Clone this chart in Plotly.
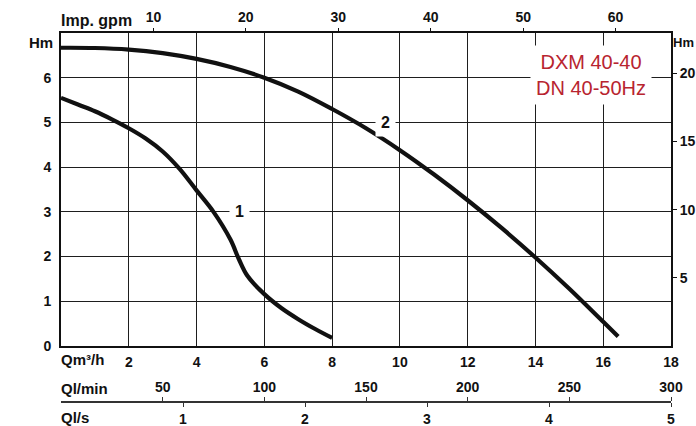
import plotly.graph_objects as go

# ---- data ----
q1 = [0, 0.5, 1, 1.5, 2, 2.5, 3, 3.5, 4, 4.5, 5.0, 5.25, 5.5, 6, 6.5, 7, 7.5, 8]
h1 = [5.55, 5.40, 5.25, 5.07, 4.87, 4.64, 4.35, 3.96, 3.48, 3.00, 2.38, 1.94, 1.57, 1.16, 0.85, 0.60,
      0.38, 0.18]
q2 = [0, 1, 2, 3, 4, 5, 6, 7, 8, 9, 10, 11, 12, 13, 14, 15, 16, 16.44]
h2 = [6.67, 6.665, 6.63, 6.55, 6.42, 6.24, 6.0, 5.69, 5.30, 4.87, 4.38, 3.84, 3.26, 2.64, 1.98, 1.28,
      0.54, 0.21]

q_ticks = [2, 4, 6, 8, 10, 12, 14, 16, 18]
h_ticks = [0, 1, 2, 3, 4, 5, 6]
ft_ticks = [5, 10, 15, 20]
gpm_ticks = [10, 20, 30, 40, 50, 60]
lmin_ticks = [50, 100, 150, 200, 250, 300]
ls_ticks = [1, 2, 3, 4, 5]

Q_MAX = 18
H_MAX = 7
M_TO_FT = 3.28084
M3H_TO_GPM = 1000 / 60 / 4.54609
M3H_TO_LMIN = 1000 / 60
M3H_TO_LS = 1000 / 3600

W, H = 696, 426
ML, MR, MT, MB = 61, 25, 33, 0
PW, PH = W - ML - MR, H - MT - MB


def fx(px):
    return (px - ML) / PW


def fy(py):
    return (H - MB - py) / PH


FONT = "Liberation Sans, Arial, sans-serif"
tick_font = dict(family=FONT, size=14, color="#111", weight="bold")
grid_col = "#1e1e1e"

fig = go.Figure()
fig.add_trace(go.Scatter(x=q1, y=h1, mode="lines", line=dict(color="#111", width=4.2, shape="spline", smoothing=1.0),
                         hoverinfo="skip", showlegend=False))
fig.add_trace(go.Scatter(x=q2, y=h2, mode="lines", line=dict(color="#111", width=4.2, shape="spline", smoothing=1.0),
                         hoverinfo="skip", showlegend=False))
# carrier traces for the secondary scales
for xa, xr in [("x2", Q_MAX * M3H_TO_GPM), ("x3", Q_MAX * M3H_TO_LMIN), ("x4", Q_MAX * M3H_TO_LS)]:
    fig.add_trace(go.Scatter(x=[0, xr], y=[None, None], xaxis=xa, yaxis="y", mode="markers",
                             marker=dict(opacity=0), hoverinfo="skip", showlegend=False))
fig.add_trace(go.Scatter(x=[None, None], y=[0, H_MAX * M_TO_FT], xaxis="x", yaxis="y2", mode="markers",
                         marker=dict(opacity=0), hoverinfo="skip", showlegend=False))

pos = fy(402)
ydom0 = fy(346)

fig.update_layout(
    width=W, height=H, margin=dict(l=ML, r=MR, t=MT, b=MB, autoexpand=False),
    paper_bgcolor="white", plot_bgcolor="white",
    font=dict(family=FONT, color="#111"),
    xaxis=dict(range=[0, Q_MAX], domain=[0, 1], tickvals=q_ticks, ticks="", showgrid=True,
               gridcolor=grid_col, gridwidth=1, zeroline=False, showline=True, linecolor="#111",
               linewidth=2, mirror=True, tickfont=tick_font, ticklabelstandoff=2),
    yaxis=dict(range=[0, H_MAX], domain=[ydom0, 1], tickvals=h_ticks, ticks="", showgrid=True,
               gridcolor=grid_col, gridwidth=1, zeroline=False, showline=True, linecolor="#111",
               linewidth=2, mirror=True, tickfont=tick_font, ticklabelstandoff=5),
    xaxis2=dict(range=[0, Q_MAX * M3H_TO_GPM], overlaying="x", side="top", anchor="y",
                tickvals=gpm_ticks, ticks="outside", ticklen=4, tickcolor="#111", showgrid=False,
                zeroline=False, showline=False, tickfont=tick_font),
    xaxis3=dict(range=[0, Q_MAX * M3H_TO_LMIN], overlaying="x", side="top", anchor="free",
                position=pos, tickvals=lmin_ticks, ticks="outside", ticklen=4, tickcolor="#333",
                showgrid=False, zeroline=False, showline=True, linecolor="#333", linewidth=1.5,
                tickfont=tick_font),
    xaxis4=dict(range=[0, Q_MAX * M3H_TO_LS], overlaying="x", side="bottom", anchor="free",
                position=pos, tickvals=ls_ticks, ticks="outside", ticklen=4, tickcolor="#333",
                showgrid=False, zeroline=False, showline=False, tickfont=tick_font),
    yaxis2=dict(range=[0, H_MAX * M_TO_FT], overlaying="y", side="right", anchor="x",
                tickvals=ft_ticks, ticks="outside", ticklen=5, tickcolor="#111", showgrid=False,
                zeroline=False, showline=False, tickfont=tick_font),
)

title_font = dict(family=FONT, size=15, color="#111", weight="bold")
ann = [
    dict(text="Imp. gpm", x=fx(60), y=fy(21), xanchor="left", font=dict(family=FONT, size=16, color="#111", weight="bold")),
    dict(text="Hm", x=fx(54), y=fy(42), xanchor="right", font=title_font),
    dict(text="Hm", x=fx(672), y=fy(42), xanchor="left", font=dict(family=FONT, size=13, color="#111", weight="bold")),
    dict(text="Qm³/h", x=fx(60), y=fy(359), xanchor="left", font=title_font),
    dict(text="Ql/min", x=fx(60), y=fy(388), xanchor="left", font=title_font),
    dict(text="Ql/s", x=fx(60), y=fy(417), xanchor="left", font=title_font),
]
for a in ann:
    a.update(xref="paper", yref="paper", yanchor="middle", showarrow=False, borderpad=0)
    fig.add_annotation(**a)

fig.add_annotation(text="DXM 40-40<br>DN 40-50Hz", x=fx(591), y=fy(75), xref="paper", yref="paper",
                   xanchor="center", yanchor="middle", showarrow=False, bgcolor="white", borderpad=5,
                   font=dict(family=FONT, size=20, color="#b8242f"))
fig.add_annotation(text="1", x=(239 - ML) / PW * Q_MAX, y=3, xref="x", yref="y", showarrow=False,
                   xanchor="center", yanchor="middle",
                   bgcolor="white", borderpad=5, font=dict(family=FONT, size=16, color="#111", weight="bold"))
fig.add_annotation(text="2", x=(385 - ML) / PW * Q_MAX, y=5, xref="x", yref="y", showarrow=False,
                   xanchor="center", yanchor="middle",
                   bgcolor="white", borderpad=5, font=dict(family=FONT, size=16, color="#111", weight="bold"))

fig.write_html("out.html")
